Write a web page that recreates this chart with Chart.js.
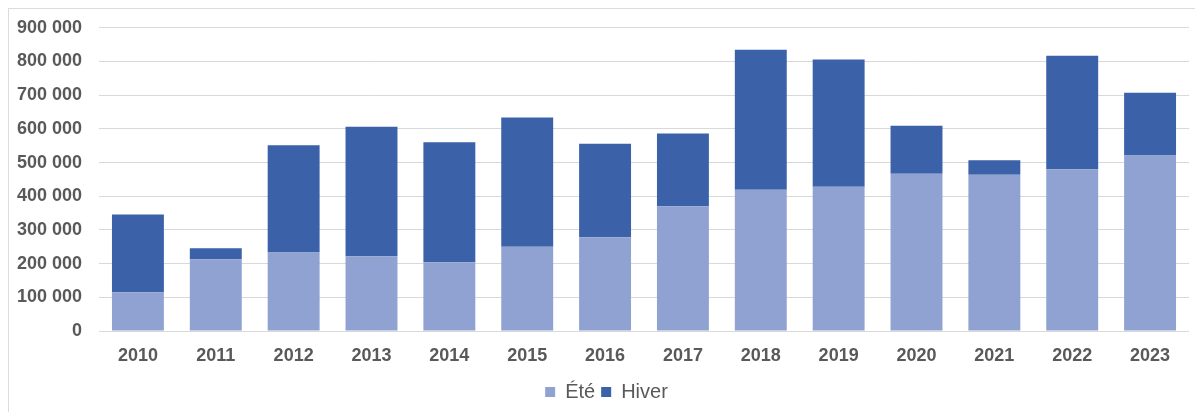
<!DOCTYPE html>
<html>
<head>
<meta charset="utf-8">
<script src="https://cdn.jsdelivr.net/npm/chart.js@4.4.0/dist/chart.umd.min.js"></script>
<style>
  html, body { margin: 0; padding: 0; background: #ffffff; }
  #wrap { position: relative; width: 1195px; height: 412px; overflow: hidden; }
  #frame { position: absolute; left: 8px; top: 8px; width: 1200px; height: 420px; border: 1px solid #dcdcdc; box-sizing: border-box; }
  canvas { position: absolute; left: 0; top: 0; }
</style>
</head>
<body>
<div id="wrap">
  <div id="frame"></div>
  <canvas id="c" width="1195" height="412"></canvas>
</div>
<script>
const years = ["2010","2011","2012","2013","2014","2015","2016","2017","2018","2019","2020","2021","2022","2023"];
const ete   = [115000, 213000, 233000, 222000, 204000, 250000, 278000, 370000, 419000, 428000, 467000, 464000, 480000, 521000];
const hiver = [231000, 33000, 318000, 384000, 356000, 384000, 278000, 216000, 416000, 378000, 142000, 43000, 337000, 186000];
const yTicks = [0, 100000, 200000, 300000, 400000, 500000, 600000, 700000, 800000, 900000];

function fmt(v) {
  return String(v).replace(/\B(?=(\d{3})+(?!\d))/g, " ");
}

const shiftLegend = {
  id: "shiftLegend",
  afterLayout(chart) {
    if (chart.legend) {
      chart.legend.left += 12;
      chart.legend.right += 12;
    }
  }
};

const ctx = document.getElementById("c");
new Chart(ctx, {
  type: "bar",
  data: {
    labels: years,
    datasets: [
      { label: "Été", data: ete, backgroundColor: "#8fa2d1", barPercentage: 0.667, categoryPercentage: 1.0 },
      { label: "Hiver", data: hiver, backgroundColor: "#3b62a9", barPercentage: 0.667, categoryPercentage: 1.0 }
    ]
  },
  plugins: [shiftLegend],
  options: {
    responsive: false,
    animation: false,
    devicePixelRatio: 1,
    layout: { padding: { left: 0, right: 6, top: 18, bottom: 0 } },
    plugins: {
      tooltip: { enabled: false },
      legend: {
        position: "bottom",
        labels: {
          boxWidth: 10,
          boxHeight: 10,
          padding: 6,
          color: "#595959",
          font: { family: "'Liberation Sans', Arial, sans-serif", size: 20 }
        }
      }
    },
    scales: {
      x: {
        stacked: true,
        grid: { display: false, drawTicks: false },
        border: { display: false },
        afterFit: (axis) => { axis.height = 45; },
        ticks: {
          color: "#595959",
          padding: 14,
          font: { family: "'Liberation Sans', Arial, sans-serif", size: 18, weight: "bold" }
        }
      },
      y: {
        stacked: true,
        min: 0,
        max: 900000,
        afterBuildTicks: (axis) => { axis.ticks = yTicks.map(v => ({ value: v })); },
        afterFit: (axis) => { axis.width = 99; },
        grid: { color: "#d9d9d9", lineWidth: 1, drawTicks: false },
        border: { display: false },
        ticks: {
          color: "#595959",
          padding: 17,
          font: { family: "'Liberation Sans', Arial, sans-serif", size: 18, weight: "bold" },
          callback: (v) => fmt(v)
        }
      }
    }
  }
});
</script>
</body>
</html>
